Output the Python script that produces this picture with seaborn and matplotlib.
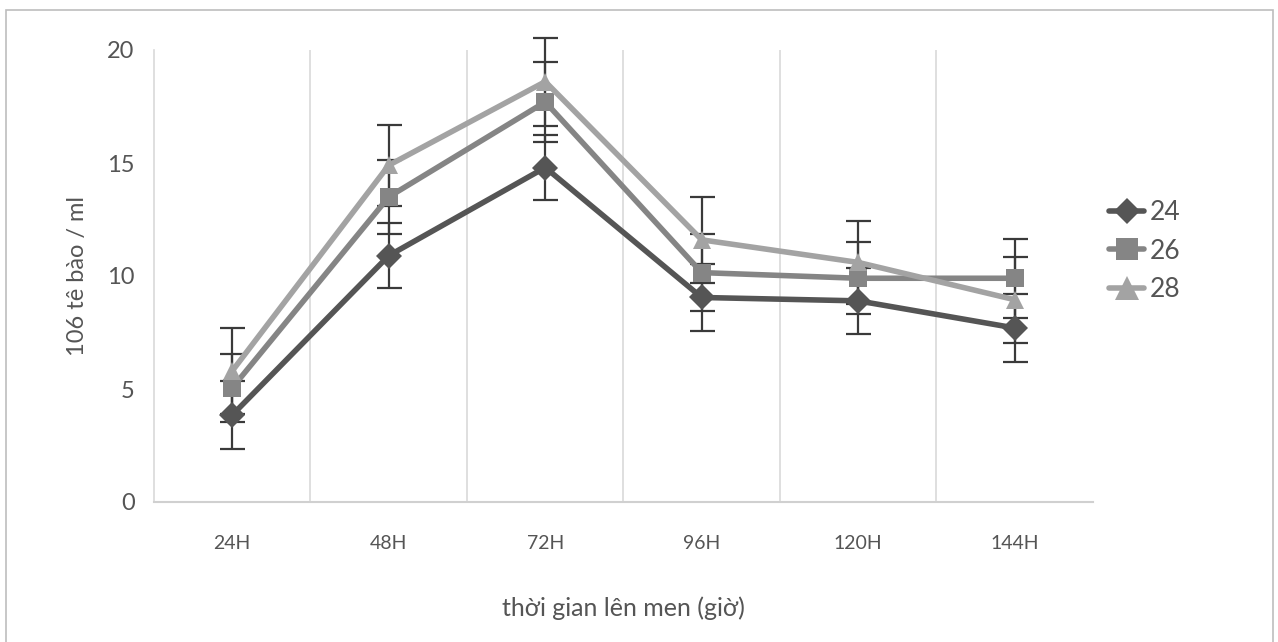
import matplotlib
matplotlib.use("Agg")
import matplotlib.pyplot as plt
import seaborn as sns
import pandas as pd
import numpy as np
from matplotlib.patches import Rectangle

categories = ["24H", "48H", "72H", "96H", "120H", "144H"]
series_names = ["24", "26", "28"]
vals_24 = [3.85, 10.9, 14.8, 9.05, 8.9, 7.7]
vals_26 = [5.05, 13.5, 17.7, 10.15, 9.9, 9.9]
vals_28 = [5.8, 14.9, 18.6, 11.6, 10.6, 8.95]
err_24 = [1.5, 1.45, 1.45, 1.5, 1.45, 1.5]
err_26 = [1.5, 1.65, 1.75, 1.7, 1.6, 1.75]
err_28 = [1.9, 1.8, 1.95, 1.9, 1.85, 1.9]

sns.set_theme(style="white")
plt.rcParams['font.family'] = ['Lato', 'DejaVu Sans']

rows = []
for name, vals in zip(series_names, [vals_24, vals_26, vals_28]):
    for i, v in enumerate(vals):
        rows.append({"pos": i, "val": v, "temp": name})
df = pd.DataFrame(rows)

colors = {"24": "#555555", "26": "#858585", "28": "#a3a3a3"}
markers = {"24": "D", "26": "s", "28": "^"}
msize = {"24": 11, "26": 14, "28": 15}

fig = plt.figure(figsize=(12.78, 6.42), dpi=100)
ax = fig.add_axes([154/1278, 140/642, (1093-154)/1278, (502-50)/642])

# error bars first (behind lines)
for name, vals, errs in zip(series_names, [vals_24, vals_26, vals_28], [err_24, err_26, err_28]):
    cont = ax.errorbar(range(len(categories)), vals, yerr=errs, fmt="none",
                       ecolor="#3a3a3a", elinewidth=1.6, capsize=9, capthick=1.6, zorder=2)
    for art in cont.lines[1]:
        art.set_clip_on(False)
    for art in cont.lines[2]:
        art.set_clip_on(False)

sns.lineplot(data=df, x="pos", y="val", hue="temp", style="temp",
             palette=colors, markers=markers, dashes=False, linewidth=4,
             markersize=13, markeredgewidth=0, ax=ax, zorder=3, legend=True)

for line, name in zip(ax.get_lines()[-3:], series_names):
    line.set_markersize(msize[name])

ax.set_xlim(-0.5, 5.5)
ax.set_ylim(0, 20)
ax.set_yticks([0, 5, 10, 15, 20])
ax.set_xticks(range(len(categories)))
ax.set_xticklabels(categories)
for xg in np.arange(0.5, 5.0, 1.0):
    ax.axvline(xg, color="#d9d9d9", linewidth=1.2, zorder=0)
for s in ["top", "right"]:
    ax.spines[s].set_visible(False)
ax.spines["left"].set_color("#d9d9d9")
ax.spines["left"].set_linewidth(1.2)
ax.spines["bottom"].set_color("#d0d0d0")
ax.spines["bottom"].set_linewidth(1.5)
ax.tick_params(axis="x", length=0, pad=24, labelsize=14, labelcolor="#555555")
ax.tick_params(axis="y", length=0, pad=14, labelsize=17, labelcolor="#555555")
ax.set_xlabel("thời gian lên men (giờ)", fontsize=18, color="#555555", labelpad=32)
ax.set_ylabel("106 tê bào / ml", fontsize=17, color="#555555", labelpad=14)

handles, labels = ax.get_legend_handles_labels()
leg = ax.legend(handles, labels, loc="center left", bbox_to_anchor=(1.0, 0.555),
                frameon=False, fontsize=19, labelcolor="#555555", borderaxespad=0.2,
                handlelength=1.35, handletextpad=0.2, labelspacing=0.5)
for h, name in zip(leg.legend_handles, series_names):
    h.set_markersize(msize[name] + 2)
    h.set_linewidth(4)

fig.patches.append(Rectangle((6/1278, -0.01), (1273-6)/1278, (632/642) + 0.01,
                             transform=fig.transFigure, fill=False,
                             edgecolor="#bdbdbd", linewidth=1.2))

fig.savefig("out.png", dpi=100)
